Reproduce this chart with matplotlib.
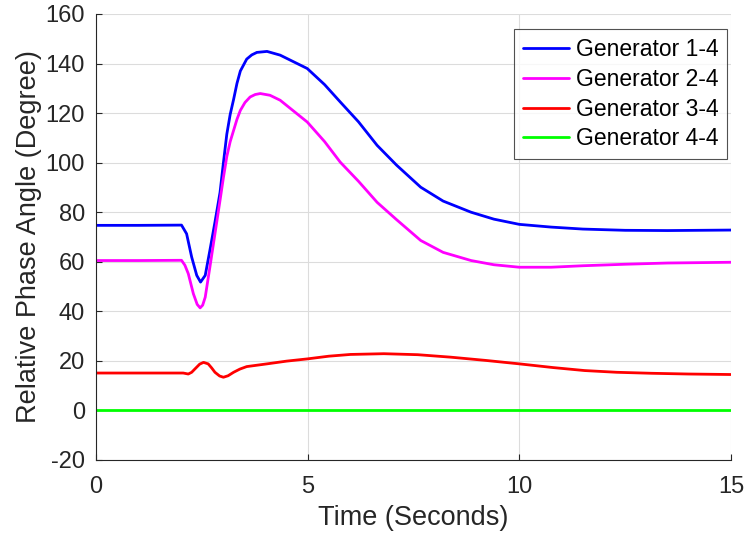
import numpy as np
import matplotlib.pyplot as plt

plt.rcParams['font.family'] = ['Liberation Sans', 'DejaVu Sans']
plt.rcParams['axes.unicode_minus'] = False

# Generator 1-4
t1 = [0, 1.0, 2.02, 2.14, 2.26, 2.38, 2.47, 2.58, 2.69, 2.81, 2.93, 3.01, 3.09, 3.17, 3.25, 3.33,
      3.41, 3.56, 3.68, 3.8, 4.04, 4.35, 4.99, 5.4, 5.77, 6.2, 6.64, 7.1, 7.67, 8.2, 8.86,
      9.4, 10.0, 10.75, 11.5, 12.5, 13.5, 15.0]
v1 = [74.7, 74.7, 74.8, 71.3, 61.9, 54.5, 51.8, 54.5, 64.6, 76.0, 88.0, 100.0, 111.5, 119.5, 125.5, 132.0,
      137.0, 141.8, 143.5, 144.5, 144.9, 143.4, 138.0, 131.5, 124.5, 116.5, 107.0, 99.0, 90.1, 84.5, 80.0,
      77.2, 75.1, 74.0, 73.2, 72.7, 72.6, 72.8]

# Generator 2-4
t2 = [0, 1.0, 2.02, 2.1, 2.18, 2.3, 2.39, 2.46, 2.52, 2.58, 2.69, 2.81, 2.93, 3.01, 3.09, 3.17, 3.25,
      3.33, 3.41, 3.52, 3.64, 3.76, 3.88, 4.11, 4.35, 4.99, 5.4, 5.77, 6.2, 6.64, 7.1, 7.67, 8.2,
      8.86, 9.4, 10.0, 10.75, 11.5, 12.5, 13.5, 15.0]
v2 = [60.5, 60.5, 60.6, 58.6, 55.2, 47.1, 42.8, 41.4, 42.5, 45.7, 57.8, 71.3, 84.8, 94.0, 102.5, 108.5, 113.0,
      117.5, 121.1, 124.3, 126.5, 127.5, 127.9, 127.2, 125.2, 116.4, 108.5, 100.2, 92.5, 84.0, 77.0, 68.6, 63.8,
      60.5, 58.8, 57.8, 57.8, 58.4, 59.0, 59.5, 59.8]

# Generator 3-4
t3 = [0, 1.0, 2.06, 2.18, 2.26, 2.34, 2.45, 2.54, 2.65, 2.73, 2.81, 2.92, 3.01, 3.12, 3.25, 3.4,
      3.56, 4.04, 4.5, 4.99, 5.5, 6.01, 6.8, 7.6, 8.38, 9.2, 10.0, 10.8, 11.54, 12.3, 13.12,
      14.0, 15.0]
v3 = [15.1, 15.1, 15.1, 14.7, 15.4, 16.8, 18.7, 19.4, 18.8, 17.2, 15.4, 13.9, 13.4, 14.0, 15.4, 16.7,
      17.7, 18.8, 19.9, 20.8, 21.9, 22.6, 22.9, 22.5, 21.5, 20.2, 18.8, 17.3, 16.1, 15.4, 15.0,
      14.7, 14.5]

# Generator 4-4
t4 = [0, 15]
v4 = [0, 0]

labels = ['Generator 1-4', 'Generator 2-4', 'Generator 3-4', 'Generator 4-4']
colors = ['#0000ff', '#ff00ff', '#ff0000', '#00ff00']

fig = plt.figure(figsize=(7.46, 5.35), dpi=100)
ax = fig.add_axes([96 / 746, 75 / 535, 635 / 746, 446 / 535])

for t, v, lab, c in zip([t1, t2, t3, t4], [v1, v2, v3, v4], labels, colors):
    ax.plot(t, v, color=c, lw=2.0, label=lab, solid_capstyle='round', solid_joinstyle='round')

ax.set_xlim(0, 15)
ax.set_ylim(-20, 160)
ax.set_xticks([0, 5, 10, 15])
ax.set_yticks(np.arange(-20, 161, 20))
ax.grid(True, color='#dcdcdc', lw=0.8)
ax.set_axisbelow(True)
for s in ['top', 'right']:
    ax.spines[s].set_visible(False)
for s in ['left', 'bottom']:
    ax.spines[s].set_color('#262626')
    ax.spines[s].set_linewidth(0.8)
ax.tick_params(direction='in', length=4, width=0.8, colors='#262626', labelsize=17)
ax.tick_params(axis='y', pad=8)
ax.tick_params(axis='x', pad=11.5)
ax.set_xlabel('Time (Seconds)', fontsize=19.5, color='#262626', labelpad=5)
ax.set_ylabel('Relative Phase Angle (Degree)', fontsize=19.5, color='#262626', labelpad=2.5)

leg = ax.legend(loc='upper right', bbox_to_anchor=(0.9937, 0.966), fontsize=16.5, frameon=True,
                fancybox=False, edgecolor='#262626', handlelength=2.0, handletextpad=0.3,
                borderpad=0.38, labelspacing=0.3, borderaxespad=0.0)
leg.get_frame().set_linewidth(0.8)

plt.savefig('out.png', dpi=100)
